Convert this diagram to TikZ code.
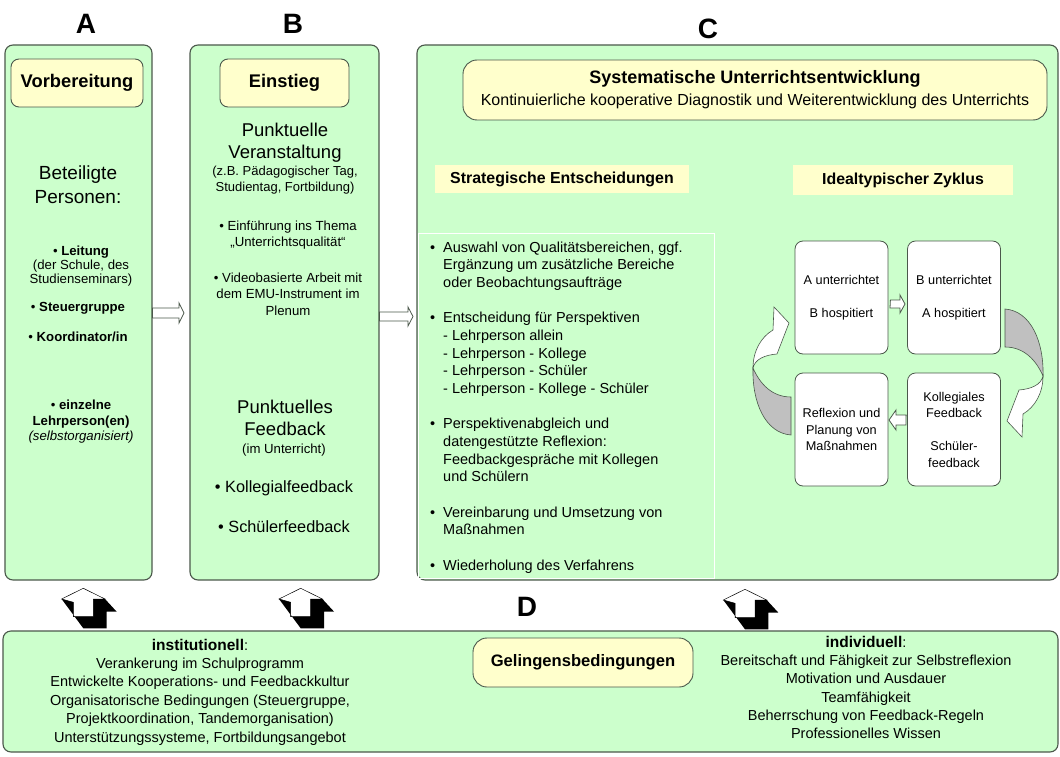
\documentclass[tikz,border=0pt]{standalone}
\usepackage{fontspec}
\setmainfont{Liberation Sans}
\usepackage{tikz}
\definecolor{panel_bg}{HTML}{CCFFCC}
\definecolor{title_bg}{HTML}{FFFFCC}
\definecolor{panel_line}{HTML}{4B584B}
\definecolor{twist_back}{HTML}{C0C0C0}

\begin{document}
\begin{tikzpicture}[
    x=1pt, y=-1pt,
    % Stile fuer die Flaechen
    panel_box/.style = {
        draw=panel_line,
        line width=1.1pt,
        fill=panel_bg,
        rounded corners=8pt,
        inner sep=0
    },
    title_box/.style = {
        draw=panel_line,
        line width=0.9pt,
        fill=title_bg,
        rounded corners=8pt,
        inner sep=0,
        align=center
    },
    label_box/.style = {
        fill=title_bg,
        inner sep=0,
        font=\fontsize{15.9}{18}\selectfont\bfseries
    },
    cycle_box/.style = {
        draw=panel_line,
        line width=0.8pt,
        fill=white,
        rounded corners=8pt,
        minimum width=93,
        minimum height=113,
        inner sep=0,
        align=center,
        font=\fontsize{12.7}{16.5}\selectfont
    },
    block_arrow/.style = {
        draw=panel_line,
        line width=0.8pt,
        fill=white,
        line join=miter
    },
    letter/.style = {font=\fontsize{28}{30}\selectfont\bfseries},
    small_text/.style = {align=center, font=\fontsize{13.2}{14}\selectfont},
    big_text/.style = {align=center, font=\fontsize{18.5}{22}\selectfont}
]
\useasboundingbox (0,0) rectangle (1060,757);

% 1. Buchstaben der Bereiche
\node[letter] (let_a) at (86,24) {A};
\node[letter] (let_b) at (293,24) {B};
\node[letter] (let_c) at (708,29) {C};
\node[letter] (let_d) at (527,607) {D};

% 2. Hauptflaechen
\node[panel_box, minimum width=147, minimum height=535] (box_a) at (78.5,312.5) {};
\node[panel_box, minimum width=189, minimum height=535] (box_b) at (284.5,312.5) {};
\node[panel_box, minimum width=641, minimum height=535] (box_c) at (737.5,312.5) {};
\node[panel_box, minimum width=1055, minimum height=121] (box_d) at (530.5,691.5) {};

% Pfeile zwischen den Flaechen
\draw[block_arrow] (box_a.east |- 0,308) -- (179,308) -- (179,303) -- (184,313)
    -- (179,323) -- (179,318) -- (box_a.east |- 0,318) -- cycle;
\draw[block_arrow] (box_b.east |- 0,312) -- (408,312) -- (408,307) -- (413,316.5)
    -- (408,326) -- (408,321) -- (box_b.east |- 0,321) -- cycle;

% 3. Bereich A: Vorbereitung
\node[title_box, minimum width=132, minimum height=48,
      font=\fontsize{18.3}{20}\selectfont\bfseries] (head_a) at (77,83) {Vorbereitung};
\node[big_text, font=\fontsize{19}{24}\selectfont] (persons) at (78,185) {Beteiligte\\Personen:};
\node[small_text] (lead) at (81,266) {\textbullet\ \textbf{Leitung}\\(der Schule, des\\Studienseminars)};
\node[small_text] (steer) at (78,308) {\textbullet\ \textbf{Steuergruppe}};
\node[small_text] (coord) at (78,337) {\textbullet\ \textbf{Koordinator/in}};
\node[small_text, font=\fontsize{13.2}{15.5}\selectfont] (single) at (81,422)
    {\textbullet\ \textbf{einzelne}\\\textbf{Lehrperson(en)}\\\textit{(selbstorganisiert)}};

% 4. Bereich B: Einstieg
\node[title_box, minimum width=129, minimum height=48,
      font=\fontsize{18.3}{20}\selectfont\bfseries] (head_b) at (284.5,83) {Einstieg};
\node[big_text] (event) at (285,143) {Punktuelle\\Veranstaltung};
\node[small_text, font=\fontsize{13}{16}\selectfont] (event_ex) at (285,180)
    {(z.B. Pädagogischer Tag,\\Studientag, Fortbildung)};
\node[small_text, font=\fontsize{13.2}{16.7}\selectfont] (intro) at (288,235)
    {\textbullet\ Einführung ins Thema\\„Unterrichtsqualität“};
\node[small_text, font=\fontsize{13.2}{16.3}\selectfont] (video) at (288,294)
    {\textbullet\ Videobasierte Arbeit mit\\dem EMU-Instrument im\\Plenum};
\node[big_text, font=\fontsize{18.5}{21.5}\selectfont] (feedback) at (285,418) {Punktuelles\\Feedback};
\node[small_text] (in_class) at (284,450) {(im Unterricht)};
\node[small_text, font=\fontsize{16.3}{18}\selectfont] (peer_fb) at (284,488) {\textbullet\ Kollegialfeedback};
\node[small_text, font=\fontsize{16.3}{18}\selectfont] (pupil_fb) at (284,527) {\textbullet\ Schülerfeedback};

% 5. Bereich C: Systematische Unterrichtsentwicklung
\node[title_box, rounded corners=14pt, minimum width=584, minimum height=60,
      font=\fontsize{16}{22}\selectfont] (head_c) at (755,90)
    {{\fontsize{18}{22}\selectfont\bfseries Systematische Unterrichtsentwicklung}\\
     Kontinuierliche kooperative Diagnostik und Weiterentwicklung des Unterrichts};
\node[label_box, minimum width=254, minimum height=28] (strat) at (562,179) {Strategische Entscheidungen};
\node[label_box, minimum width=220, minimum height=30] (ideal) at (903,180) {Idealtypischer Zyklus};

% Liste der Entscheidungen
\draw[white, line width=0.6pt] (418,233) rectangle (714,578);
\node[align=left, inner sep=0, anchor=north west,
      font=\fontsize{14.5}{17.67}\selectfont] (strat_list) at (443,241.5) {%
    \llap{\textbullet\hspace{8pt}}Auswahl von Qualitätsbereichen, ggf.\\
    Ergänzung um zusätzliche Bereiche\\
    oder Beobachtungsaufträge\\[17.67pt]
    \llap{\textbullet\hspace{8pt}}Entscheidung für Perspektiven\\
    - Lehrperson allein\\
    - Lehrperson - Kollege\\
    - Lehrperson - Schüler\\
    - Lehrperson - Kollege - Schüler\\[17.67pt]
    \llap{\textbullet\hspace{8pt}}Perspektivenabgleich und\\
    datengestützte Reflexion:\\
    Feedbackgespräche mit Kollegen\\
    und Schülern\\[17.67pt]
    \llap{\textbullet\hspace{8pt}}Vereinbarung und Umsetzung von\\
    Maßnahmen\\[17.67pt]
    \llap{\textbullet\hspace{8pt}}Wiederholung des Verfahrens};

% Zyklus
\node[cycle_box] (step_a) at (841.5,297.5) {A unterrichtet\\[16.5pt]B hospitiert};
\node[cycle_box] (step_b) at (954,297.5) {B unterrichtet\\[16.5pt]A hospitiert};
\node[cycle_box] (step_d) at (841.5,429.5) {Reflexion und\\Planung von\\Maßnahmen};
\node[cycle_box] (step_c) at (954,429.5) {Kollegiales\\Feedback\\[16.5pt]Schüler-\\feedback};
\draw[block_arrow] (step_a.east |- 0,300) ++(2,0) -- (900,300) -- (900,295) -- (905,304)
    -- (900,313) -- (900,308) -- (890,308) -- cycle;
\draw[block_arrow] (step_c.west |- 0,415) ++(-1,0) -- (896,415) -- (896,410) -- (889,420)
    -- (896,430) -- (896,425) -- (906,425) -- cycle;

% gebogene Pfeile (rechts, und um 180 Grad gedreht links)
\foreach \rot in {0,180} {
    \begin{scope}[rotate around={\rot:(898,372)}]
        \filldraw[fill=twist_back, draw=panel_line, line width=0.6pt]
            (1005,309) .. controls (1031,311) and (1044,342) .. (1043,376)
            .. controls (1036,360) and (1024,347) .. (1005,347) -- cycle;
        \filldraw[fill=white, draw=panel_line, line width=0.6pt]
            (1043,376) .. controls (1041,385) and (1031,389) .. (1019,390)
            -- (1007,421) -- (1022,437) -- (1023,414)
            .. controls (1035,407) and (1043,393) .. (1043,376) -- cycle;
    \end{scope}
}

% 6. Doppelpfeile zwischen den Bereichen und D
\foreach \px/\py in {83.3/588.3, 300.7/588.3, 745/589.3} {
    \begin{scope}[shift={(\px,\py)}]
        \filldraw[fill=white, draw=black, line width=0.5pt]
            (0,0) -- (21.7,10.7) -- (10,10.7) -- (10,28.4) -- (-10,28.4)
            -- (-10,14) -- (-21.7,10.7) -- cycle;
        \fill[black] (-21.7,10.7) -- (-10,14) -- (-10,28.4) -- (10,28.4)
            -- (10,10.7) -- (21.7,10.7) -- (33.4,23.4) -- (23.4,23.4)
            -- (23.4,40) -- (0,40) -- cycle;
    \end{scope}
}

% 7. Bereich D: Gelingensbedingungen
\node[title_box, rounded corners=14pt, minimum width=220, minimum height=49,
      font=\fontsize{16.6}{20}\selectfont\bfseries] (head_d) at (583,662.5) {Gelingensbedingungen};
\node[align=center, font=\fontsize{14.5}{18.4}\selectfont] (inst) at (200,692)
    {{\fontsize{15.5}{18.4}\selectfont\bfseries institutionell}:\\
     Verankerung im Schulprogramm\\
     Entwickelte Kooperations- und Feedbackkultur\\
     Organisatorische Bedingungen (Steuergruppe,\\
     Projektkoordination, Tandemorganisation)\\
     Unterstützungssysteme, Fortbildungsangebot};
\node[align=center, font=\fontsize{14.5}{18.2}\selectfont] (indiv) at (866,687.5)
    {{\fontsize{15.5}{18.2}\selectfont\bfseries individuell}:\\
     Bereitschaft und Fähigkeit zur Selbstreflexion\\
     Motivation und Ausdauer\\
     Teamfähigkeit\\
     Beherrschung von Feedback-Regeln\\
     Professionelles Wissen};

\end{tikzpicture}
\end{document}
